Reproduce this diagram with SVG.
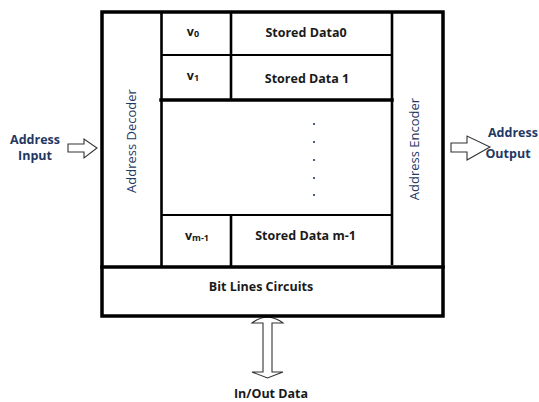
<svg xmlns="http://www.w3.org/2000/svg" width="539" height="402" viewBox="0 0 539 402">
<style>
.thick{fill:none;stroke:#000;stroke-width:3.5;stroke-linecap:square}
.mid{fill:none;stroke:#000;stroke-width:2.6}
.thin{fill:none;stroke:#000;stroke-width:2}
.arr{fill:#fff;stroke:#333;stroke-width:1.1;stroke-linejoin:miter}
.t{font-family:"Open Sans","Liberation Sans",sans-serif;font-weight:bold;font-size:12.5px;fill:#1a1a1a;text-anchor:middle}
.b{font-family:"Open Sans","Liberation Sans",sans-serif;font-weight:bold;font-size:12.5px;fill:#1f3864;text-anchor:middle}
.r{font-family:"Open Sans","Liberation Sans",sans-serif;font-size:13px;fill:#1f3864;text-anchor:middle}
.sub{font-size:9px}
</style>
<rect width="539" height="402" fill="#fff"/>
<g id="connectors">
<polygon class="arr" points="68,144 84,144 84,139 97,148 84,158 84,152 68,152"/>
<polygon class="arr" points="451,143 467,143 467,136 490,147 467,160 467,152 451,152"/>
<path class="arr" d="M263,372 L263,323 L252,323 Q258,318 267.5,317 Q277,318 283,323 L272,323 L272,372 L283,372 L267.5,378 L252,372 Z"/>
</g>
<g id="frame">
<rect class="thick" x="102" y="12" width="341" height="304"/>
<line class="thick" x1="102" y1="267" x2="443" y2="267"/>
</g>
<g id="decoder">
<line class="mid" x1="161.5" y1="12" x2="161.5" y2="267"/>
<text class="r" transform="translate(136,141) rotate(-90)">Address Decoder</text>
</g>
<g id="encoder">
<line class="mid" x1="392" y1="12" x2="392" y2="265"/>
<text class="r" transform="translate(419,149) rotate(-90)">Address Encoder</text>
</g>
<g id="row0">
<line class="mid" x1="231" y1="12" x2="231" y2="55"/>
<text class="t" x="193" y="36">v<tspan class="sub" dy="1">0</tspan></text>
<text class="t" x="306" y="37">Stored Data0</text>
</g>
<g id="row1">
<line class="thin" x1="161" y1="55" x2="392" y2="55"/>
<line class="mid" x1="231" y1="55" x2="231" y2="100"/>
<text class="t" x="193" y="80">v<tspan class="sub" dy="1">1</tspan></text>
<text class="t" x="307" y="83">Stored Data 1</text>
</g>
<g id="middle">
<line class="thick" x1="161" y1="100" x2="392" y2="100"/>
<g fill="#1f3864">
<circle cx="314" cy="124" r="1.1"/>
<circle cx="314" cy="142" r="1.1"/>
<circle cx="314" cy="160" r="1.1"/>
<circle cx="314" cy="178" r="1.1"/>
<circle cx="314" cy="195" r="1.1"/>
</g>
</g>
<g id="rowm1">
<line class="thin" x1="161" y1="215" x2="392" y2="215"/>
<line class="mid" x1="231" y1="215" x2="231" y2="267"/>
<text class="t" x="197" y="240">v<tspan class="sub" dy="1">m-1</tspan></text>
<text class="t" x="305.5" y="240">Stored Data m-1</text>
</g>
<g id="bitlines">
<text class="t" x="261" y="291">Bit Lines Circuits</text>
</g>
<g id="input">
<text class="b" x="35" y="144">Address</text>
<text class="b" x="35" y="160">Input</text>
</g>
<g id="output">
<text class="b" x="488" y="137" text-anchor="start" style="text-anchor:start">Address</text>
<text class="b" x="508" y="158">Output</text>
</g>
<g id="inout">
<text class="t" x="271" y="398">In/Out Data</text>
</g>
</svg>
